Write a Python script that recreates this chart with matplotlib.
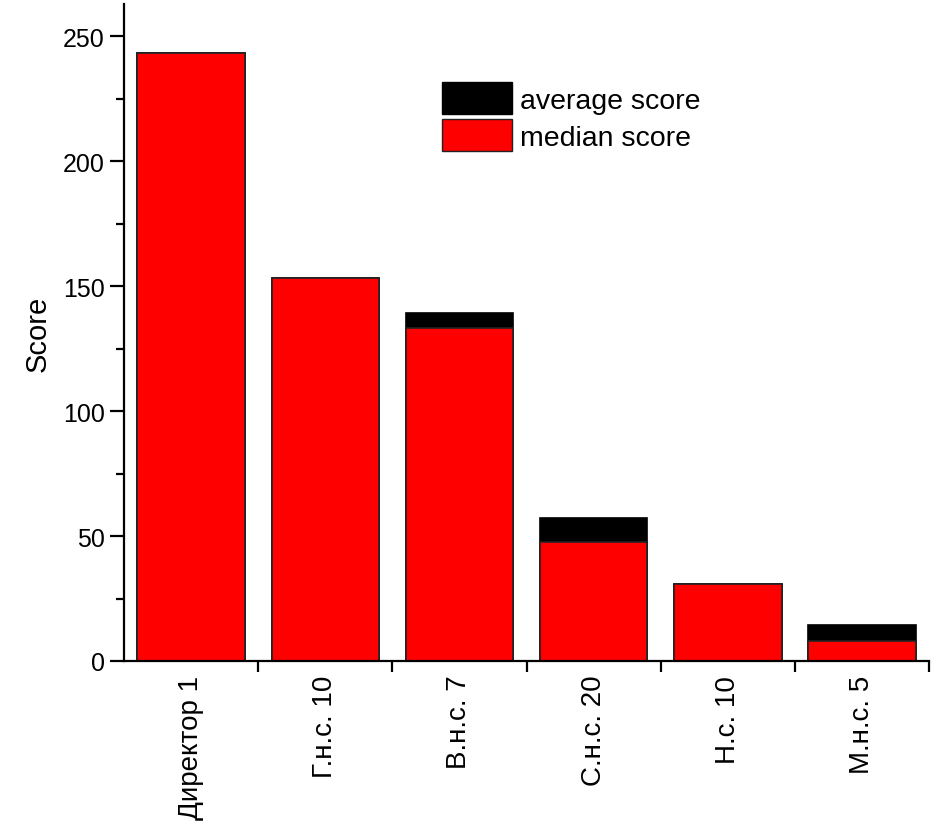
import numpy as np
import matplotlib.pyplot as plt
from matplotlib.patches import Patch
from matplotlib.ticker import MultipleLocator, FixedLocator

plt.rcParams['font.family'] = ['Liberation Sans', 'DejaVu Sans']

categories = ['Директор 1', 'Г.н.с. 10', 'В.н.с. 7', 'С.н.с. 20', 'Н.с. 10', 'М.н.с. 5']
average_score = [243.2, 153.4, 139.4, 57.3, 30.8, 14.4]
median_score = [243.2, 153.4, 133.4, 47.7, 30.8, 8.0]

fig = plt.figure(figsize=(9.32, 8.28), dpi=100)
ax = fig.add_axes([0.133, 0.2005, 0.864, 0.7935])

x = np.arange(len(categories))
# average behind, median in front
ax.bar(x, average_score, width=0.8, color='black', edgecolor='black', linewidth=1.2)
ax.bar(x, median_score, width=0.8, color='#ff0000', edgecolor='#222222', linewidth=1.2)

ax.set_xlim(-0.5, len(categories) - 0.5)
ax.set_ylim(0, 263)

for s in ['top', 'right']:
    ax.spines[s].set_visible(False)
ax.spines['left'].set_linewidth(1.6)
ax.spines['bottom'].set_linewidth(1.6)

ax.yaxis.set_major_locator(MultipleLocator(50))
ax.yaxis.set_minor_locator(MultipleLocator(25))
ax.tick_params(axis='y', which='major', length=10, width=1.6, labelsize=18, pad=4)
ax.tick_params(axis='y', which='minor', length=6, width=1.6)

# ticks sit between the bars, labels under the bar centres
ax.xaxis.set_major_locator(FixedLocator(x + 0.5))
ax.set_xticklabels([''] * len(x))
ax.xaxis.set_minor_locator(FixedLocator(x))
ax.set_xticklabels(categories, minor=True, rotation=90, fontsize=20)
ax.tick_params(axis='x', which='major', length=8, width=1.6)
ax.tick_params(axis='x', which='minor', length=0, pad=10)

ax.set_ylabel('Score', fontsize=21, labelpad=8)

handles = [Patch(facecolor='black', edgecolor='black'),
           Patch(facecolor='#ff0000', edgecolor='#222222')]
ax.legend(handles, ['average score', 'median score'], loc='upper left',
          bbox_to_anchor=(0.395, 0.881), frameon=False, fontsize=20.5,
          handlelength=2.45, handleheight=1.35, handletextpad=0.3,
          labelspacing=0.18, borderaxespad=0, borderpad=0)

fig.savefig('out.png', dpi=100)
